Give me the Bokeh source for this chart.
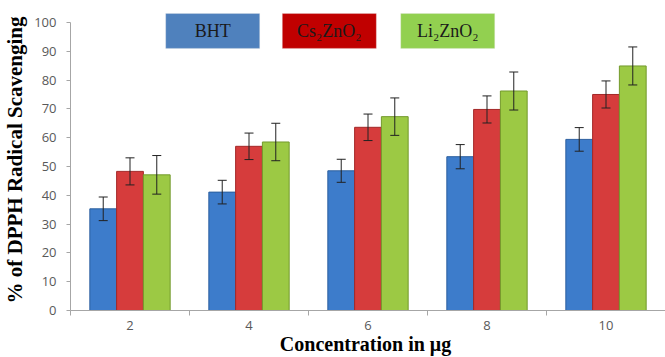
from bokeh.plotting import figure
from bokeh.models import Range1d, FixedTicker, Whisker, TeeHead, ColumnDataSource, BoxAnnotation, Label
from bokeh.transform import dodge
from bokeh.embed import file_html
from bokeh.resources import INLINE

# ---- data ----
conc = [2, 4, 6, 8, 10]
conc_labels = ["2", "4", "6", "8", "10"]
series_names = ["BHT", "Cs\u2082ZnO\u2082", "Li\u2082ZnO\u2082"]
bht = [35.3, 41.1, 48.5, 53.4, 59.4]
bht_err = [4.1, 4.1, 4.0, 4.2, 4.1]
cs = [48.3, 57.0, 63.6, 69.8, 75.0]
cs_err = [4.7, 4.6, 4.6, 4.7, 4.7]
li = [47.1, 58.5, 67.3, 76.2, 84.9]
li_err = [6.7, 6.5, 6.5, 6.6, 6.6]
y_ticks = list(range(0, 101, 10))
x_title = "Concentration  in \u03bcg"
y_title = "% of DPPH Radical Scavenging"

bar_colors = ["#3D7CCB", "#D63C3C", "#9CC944"]
bar_edges = ["#2C5F9E", "#A32828", "#739A2C"]
legend_colors = ["#4F81BD", "#C00000", "#92D050"]

src = ColumnDataSource(dict(
    x=conc,
    bht=bht, bht_u=[v + e for v, e in zip(bht, bht_err)], bht_l=[v - e for v, e in zip(bht, bht_err)],
    cs=cs, cs_u=[v + e for v, e in zip(cs, cs_err)], cs_l=[v - e for v, e in zip(cs, cs_err)],
    li=li, li_u=[v + e for v, e in zip(li, li_err)], li_l=[v - e for v, e in zip(li, li_err)],
))

p = figure(width=665, height=357, output_backend="svg", toolbar_location=None,
           x_range=Range1d(1, 11), y_range=Range1d(0, 104.5),
           min_border_left=70, min_border_right=0, min_border_top=9, min_border_bottom=10)
p.outline_line_color = None
p.xgrid.grid_line_color = None
p.ygrid.grid_line_color = None
p.background_fill_color = "white"

offsets = [-0.45, 0.0, 0.45]
keys = ["bht", "cs", "li"]
for k, off, fc, ec in zip(keys, offsets, bar_colors, bar_edges):
    xs = dodge("x", off, range=p.x_range)
    p.vbar(x=xs, top=k, width=0.45, source=src, fill_color=fc, line_color=ec, line_width=1)
    w = Whisker(source=src, base=xs, upper=k + "_u", lower=k + "_l",
                line_color="#222222", line_width=1, level="overlay",
                upper_head=TeeHead(size=9, line_color="#222222", line_width=1),
                lower_head=TeeHead(size=9, line_color="#222222", line_width=1))
    p.add_layout(w)

# legend boxes
box_lr = [(2.6, 4.18), (4.56, 6.14), (6.55, 8.13)]
for name, col, (l, r) in zip(series_names, legend_colors, box_lr):
    p.add_layout(BoxAnnotation(left=l, right=r, bottom=91.0, top=103.1,
                               fill_color=col, fill_alpha=1.0,
                               line_color="#E8E8E8", line_width=1))
    p.add_layout(Label(x=(l + r) / 2, y=97.0, text=name, text_align="center",
                       text_baseline="middle", text_font="Liberation Serif",
                       text_font_size="18px", text_color="#1a1a1a"))

# y axis
ya = p.yaxis[0]
ya.bounds = (0, 100)
ya.ticker = FixedTicker(ticks=y_ticks)
ya.axis_line_color = "#A6A6A6"
ya.major_tick_line_color = "#A6A6A6"
ya.major_tick_out = 4
ya.major_tick_in = 0
ya.minor_tick_line_color = None
ya.major_label_text_font = "Open Sans"
ya.major_label_text_font_size = "13px"
ya.major_label_text_color = "#595959"
ya.major_label_standoff = 10
ya.axis_label = y_title
ya.axis_label_text_font = "Liberation Serif"
ya.axis_label_text_font_style = "bold"
ya.axis_label_text_font_size = "21px"
ya.axis_label_text_color = "#000000"
ya.axis_label_standoff = 4

# x axis
xa = p.xaxis[0]
xa.ticker = FixedTicker(ticks=conc, minor_ticks=[1, 3, 5, 7, 9, 11])
xa.major_label_overrides = {c: t for c, t in zip(conc, conc_labels)}
xa.axis_line_color = "#A6A6A6"
xa.major_tick_line_color = None
xa.major_tick_out = 5
xa.minor_tick_line_color = "#A6A6A6"
xa.minor_tick_out = 5
xa.minor_tick_in = 0
xa.major_label_text_font = "Open Sans"
xa.major_label_text_font_size = "13px"
xa.major_label_text_color = "#595959"
xa.major_label_standoff = 5
xa.axis_label = x_title
xa.axis_label_text_font = "Liberation Serif"
xa.axis_label_text_font_style = "bold"
xa.axis_label_text_font_size = "20px"
xa.axis_label_text_color = "#000000"
xa.axis_label_standoff = 0

open("out.html", "w").write(file_html(p, INLINE))
